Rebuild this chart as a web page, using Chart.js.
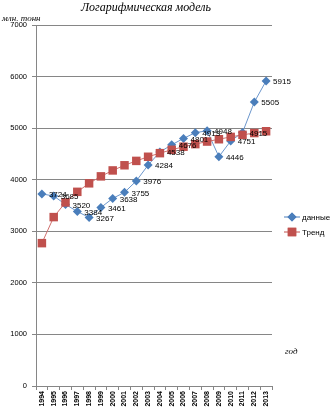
<!DOCTYPE html>
<html lang="ru">
<head>
<meta charset="UTF-8">
<title>Логарифмическая модель</title>
<script src="https://cdn.jsdelivr.net/npm/chart.js"></script>
<style>
    body { margin: 0; background: #fff; }
    #chart { display: block; }
</style>
</head>
<body>
<canvas id="chart" width="330" height="413"></canvas>
<script>
// years on the category axis
const years = ['1994', '1995', '1996', '1997', '1998', '1999', '2000', '2001', '2002', '2003',
               '2004', '2005', '2006', '2007', '2008', '2009', '2010', '2011', '2012', '2013'];
// measured values, млн. тонн
const dataValues = [3724, 3685, 3520, 3384, 3267, 3461, 3638, 3755, 3976, 4284,
                    4538, 4676, 4801, 4913, 4948, 4446, 4751, 4915, 5505, 5915];
// logarithmic trend
const trendValues = [2770, 3275, 3560, 3765, 3930, 4065, 4180, 4280, 4365, 4445,
                     4515, 4580, 4640, 4690, 4740, 4785, 4830, 4870, 4905, 4940];
const yMin = 0, yMax = 7000, yStep = 1000;

const blue = '#4a7ebb';
const red = '#c0504d';
const gridColor = '#868686';

// value labels to the right of each data point
const valueLabels = {
    id: 'valueLabels',
    afterDatasetsDraw(chart) {
        const ctx = chart.ctx;
        const meta = chart.getDatasetMeta(0);
        ctx.save();
        ctx.font = '8px "Liberation Sans", Arial, sans-serif';
        ctx.fillStyle = '#000';
        ctx.textAlign = 'left';
        ctx.textBaseline = 'middle';
        meta.data.forEach((pt, i) => {
            ctx.fillText(String(dataValues[i]), pt.x + 7, pt.y + 1);
        });
        ctx.restore();
    }
};

// title, axis captions and the legend
const decorations = {
    id: 'decorations',
    afterDraw(chart) {
        const ctx = chart.ctx;
        ctx.save();
        ctx.fillStyle = '#000';
        ctx.textBaseline = 'middle';

        ctx.font = 'italic 12px "Liberation Serif", "Times New Roman", serif';
        ctx.textAlign = 'center';
        ctx.fillText('Логарифмическая модель', 146, 8);

        ctx.font = 'italic 9px "Liberation Serif", "Times New Roman", serif';
        ctx.textAlign = 'left';
        ctx.fillText('млн. тонн', 2, 19);
        ctx.fillText('год', 285, 352);

        const items = [
            { text: 'данные', color: blue, style: 'rectRot', r: 4.5, y: 217 },
            { text: 'Тренд', color: red, style: 'rect', r: 6, y: 232 }
        ];
        ctx.font = '8px "Liberation Sans", Arial, sans-serif';
        items.forEach(it => {
            ctx.strokeStyle = it.color;
            ctx.lineWidth = 1;
            ctx.beginPath();
            ctx.moveTo(284, it.y);
            ctx.lineTo(300, it.y);
            ctx.stroke();
            ctx.fillStyle = it.color;
            Chart.helpers.drawPoint(ctx, { pointStyle: it.style, radius: it.r, borderWidth: 0 }, 292, it.y);
            ctx.fill();
            ctx.fillStyle = '#000';
            ctx.fillText(it.text, 302, it.y + 1);
        });
        ctx.restore();
    }
};

new Chart(document.getElementById('chart'), {
    type: 'line',
    data: {
        labels: years,
        datasets: [{
            label: 'данные',
            data: dataValues,
            borderColor: '#6b96cc',
            borderWidth: 1,
            backgroundColor: blue,
            pointBackgroundColor: blue,
            pointBorderColor: blue,
            pointBorderWidth: 0,
            pointStyle: 'rectRot',
            pointRadius: 4.5,
            tension: 0,
            order: 2
        }, {
            // trend squares sit on top of the data series
            label: 'Тренд',
            data: trendValues,
            borderColor: '#d0706e',
            borderWidth: 1,
            backgroundColor: red,
            pointBackgroundColor: red,
            pointBorderColor: red,
            pointBorderWidth: 0,
            pointStyle: 'rect',
            pointRadius: 6,
            tension: 0,
            order: 1
        }]
    },
    options: {
        responsive: false,
        animation: false,
        layout: { padding: { top: 25, left: 0, right: 58, bottom: 0 } },
        plugins: {
            legend: { display: false },
            title: { display: false },
            tooltip: { enabled: false }
        },
        scales: {
            x: {
                offset: true,
                grid: { display: true, drawOnChartArea: false, offset: true, tickLength: 4, color: gridColor },
                border: { color: gridColor },
                ticks: {
                    minRotation: 90, maxRotation: 90, autoSkip: false, padding: 1,
                    color: '#000',
                    font: { family: '"Liberation Sans", Arial, sans-serif', size: 7, weight: 'bold' }
                },
                afterFit(scale) { scale.height = 27; }
            },
            y: {
                min: yMin, max: yMax,
                grid: { color: gridColor, tickLength: 4, tickColor: gridColor },
                border: { color: gridColor },
                ticks: {
                    stepSize: yStep, padding: 5, color: '#000',
                    callback: v => String(v),
                    font: { family: '"Liberation Sans", Arial, sans-serif', size: 7.5 }
                },
                afterFit(scale) { scale.width = 36; }
            }
        }
    },
    plugins: [valueLabels, decorations]
});
</script>
</body>
</html>
